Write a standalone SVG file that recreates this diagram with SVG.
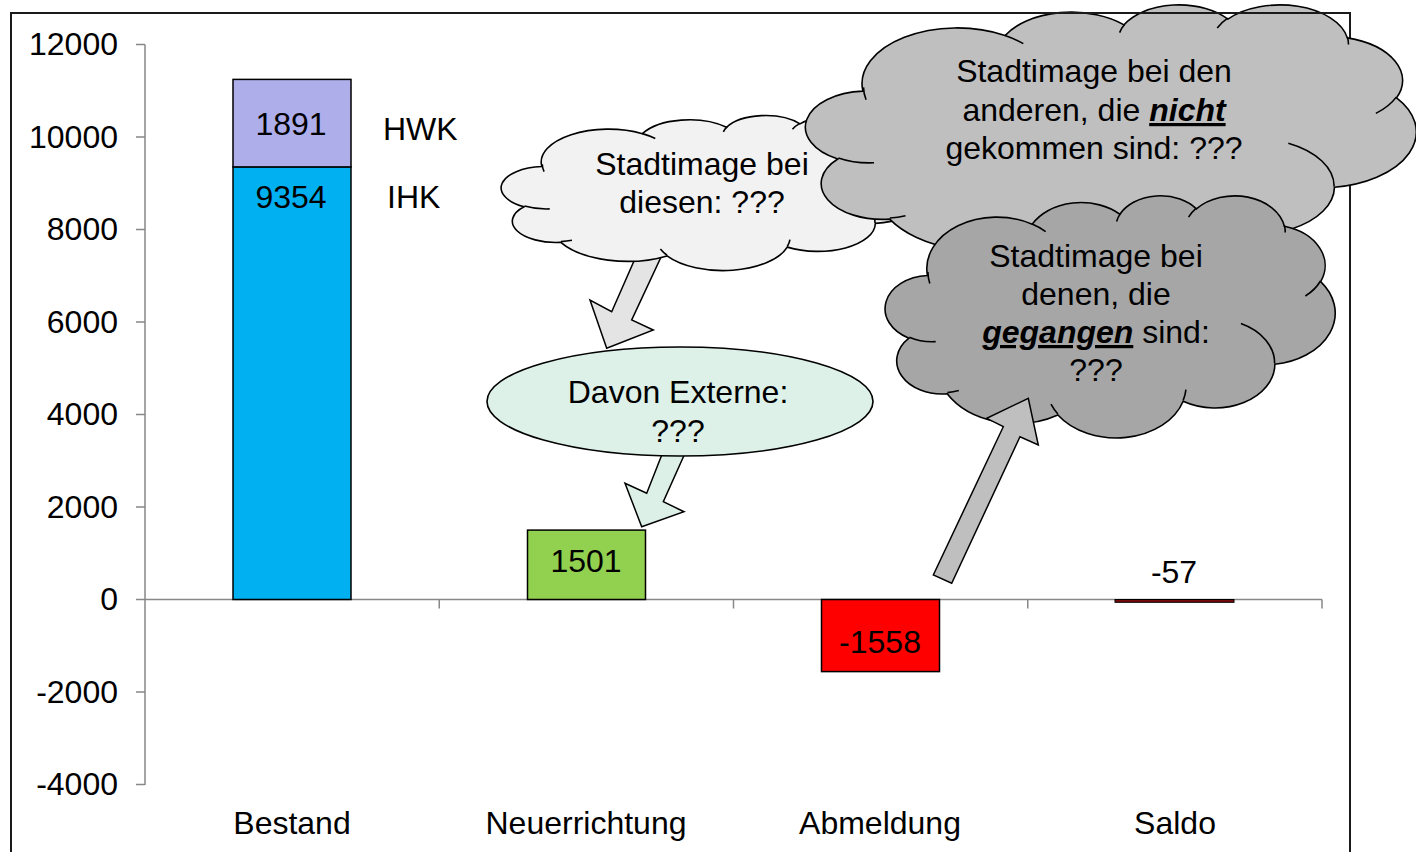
<svg xmlns="http://www.w3.org/2000/svg" xmlns:xlink="http://www.w3.org/1999/xlink" width="1416" height="852" viewBox="0 0 1416 852">
<style>
text{font-family:"Liberation Sans",Arial,sans-serif;font-size:32px;fill:#000}
.mid{text-anchor:middle}
.end{text-anchor:end}
.axis{stroke:#888;stroke-width:1.5;fill:none}
.bar{stroke:#000;stroke-width:1.5}
.frame{stroke:#1a1a1a;stroke-width:2;fill:none}
.outline{stroke:#000;stroke-width:1.6;vector-effect:non-scaling-stroke}
.curls{fill:none;stroke:#000;stroke-width:1.6;vector-effect:non-scaling-stroke}
.arrow{stroke:#000;stroke-width:1.5;stroke-linejoin:miter}
.em{font-weight:bold;font-style:italic;text-decoration:underline}
</style>
<defs>
<g id="cloudShape">
<path class="outline" d="M39,143.7 A67.53,91.9 0 0 1 140.06,52.03 A53.33,72.67 0 0 1 224.58,34.34 A43.65,59.45 0 0 1 298.34,24.84 A48.57,65.95 0 0 1 383.19,55.81 A53.33,72.73 0 0 1 418.19,154.64 A67.75,92.2 0 0 1 374.06,302.1 A57.85,78.67 0 0 1 285.58,368.2 A67.52,92.15 0 0 1 164.81,392.69 A77.2,105.43 0 0 1 58.04,354.75 A43.6,59.18 0 0 1 21.15,255.51 A43.45,59.45 0 0 1 39,143.7 Z"/>
<path class="curls" d="M46.93,261.77 A43.45,59.45 0 0 1 21.59,253.8 M69.28,348.99 A43.6,59.18 0 0 1 58.19,352.81 M164.78,390.9 A67.52,92.15 0 0 1 158.11,373.51 M288.27,347.51 A67.52,92.15 0 0 1 285.6,366.61 M341.29,229.54 A57.85,78.67 0 0 1 373.81,300.9 M417.98,153.54 A53.33,72.73 0 0 1 403.49,180.31 M383.24,54.26 A48.57,65.95 0 0 1 384,66.9 M290.78,39.52 A48.57,65.95 0 0 1 298.21,23.39 M221.41,47.2 A43.65,59.45 0 0 1 225.01,33.29 M140,51.92 A67.53,91.9 0 0 1 152.99,65.4 M41.27,157.89 A67.53,91.9 0 0 1 39.44,137.45"/>
</g>
</defs>
<rect x="0" y="0" width="1416" height="852" fill="#fff"/>
<rect class="frame" x="11" y="13" width="1339" height="860"/>

<g id="axes">
<path class="axis" d="M145,44.5 V785 M136,44.5 H145 M136,137 H145 M136,229.5 H145 M136,322 H145 M136,414.5 H145 M136,507 H145 M136,599.5 H145 M136,692 H145 M136,784.5 H145"/>
<path class="axis" d="M145,599.5 H1322 M439.25,599.5 V608.5 M733.5,599.5 V608.5 M1027.75,599.5 V608.5 M1322,599.5 V608.5"/>
<text class="end" x="118" y="55">12000</text>
<text class="end" x="118" y="147.5">10000</text>
<text class="end" x="118" y="240">8000</text>
<text class="end" x="118" y="332.5">6000</text>
<text class="end" x="118" y="425">4000</text>
<text class="end" x="118" y="517.5">2000</text>
<text class="end" x="118" y="610">0</text>
<text class="end" x="118" y="702.5">-2000</text>
<text class="end" x="118" y="795">-4000</text>
<text class="mid" x="292" y="834">Bestand</text>
<text class="mid" x="586" y="834">Neuerrichtung</text>
<text class="mid" x="880" y="834">Abmeldung</text>
<text class="mid" x="1175" y="834">Saldo</text>
</g>

<g id="bar-bestand">
<rect class="bar" x="233" y="166.9" width="118" height="432.6" fill="#00B0F0"/>
<rect class="bar" x="233" y="79.4" width="118" height="87.5" fill="#AEAEEB"/>
<text class="mid" x="291" y="135">1891</text>
<text class="mid" x="291" y="208">9354</text>
<text x="383" y="140">HWK</text>
<text x="387" y="208">IHK</text>
</g>
<g id="bar-neuerrichtung">
<rect class="bar" x="527.5" y="530.1" width="118" height="69.4" fill="#92D050"/>
<text class="mid" x="586" y="572">1501</text>
</g>
<g id="bar-abmeldung">
<rect class="bar" x="821.5" y="599.5" width="118" height="72.1" fill="#FF0000"/>
<text class="mid" x="880" y="653">-1558</text>
</g>
<g id="bar-saldo">
<rect x="1115" y="599.5" width="119" height="2.8" fill="#7A0A0A" stroke="#000" stroke-width="1"/>
<text class="mid" x="1174" y="583">-57</text>
</g>

<g id="connectors">
<polygon class="arrow" fill="#E4E4E4" points="637.5,253 662.6,253.7 631.7,320 653.3,330 606.7,348.3 590,300 611.7,311.7"/>
<polygon class="arrow" fill="#DCF0E7" points="665.5,445.5 687.8,447 663.3,501.7 684,511.7 641.7,526.7 625,483.3 646.7,493.3"/>
</g>

<g id="cloud-diesen">
<use xlink:href="#cloudShape" href="#cloudShape" fill="#F2F2F2" transform="translate(503,115) scale(0.9954,0.3588)"/>
<text class="mid" x="702" y="175">Stadtimage bei</text>
<text class="mid" x="702" y="213">diesen: ???</text>
</g>

<g id="ellipse-externe">
<ellipse cx="680" cy="401.5" rx="193" ry="54.5" fill="#DDF1E8" stroke="#000" stroke-width="1.6"/>
<text class="mid" x="678" y="403">Davon Externe:</text>
<text class="mid" x="678" y="442">???</text>
</g>

<g id="cloud-nicht">
<use xlink:href="#cloudShape" href="#cloudShape" fill="#BFBFBF" transform="translate(808,4) scale(1.4074,0.6065)"/>
<text class="mid" x="1094" y="82">Stadtimage bei den</text>
<text class="mid" x="1094" y="121">anderen, die <tspan class="em">nicht</tspan></text>
<text class="mid" x="1094" y="159">gekommen sind: ???</text>
</g>

<line class="frame" x1="10" y1="13" x2="1351" y2="13"/>

<g id="cloud-gegangen">
<use xlink:href="#cloudShape" href="#cloudShape" fill="#A6A6A6" transform="translate(887,195) scale(1.037,0.5602)"/>
<text class="mid" x="1096" y="267">Stadtimage bei</text>
<text class="mid" x="1096" y="305">denen, die</text>
<text class="mid" x="1096" y="343"><tspan class="em">gegangen</tspan> sind:</text>
<text class="mid" x="1096" y="381">???</text>
</g>

<g id="connectors-front">
<polygon class="arrow" fill="#BFBFBF" points="933.3,575 1003.3,426.7 986.7,418.3 1028.3,398.3 1038.3,445 1020,436.7 951.7,583.3"/>
</g>
</svg>
